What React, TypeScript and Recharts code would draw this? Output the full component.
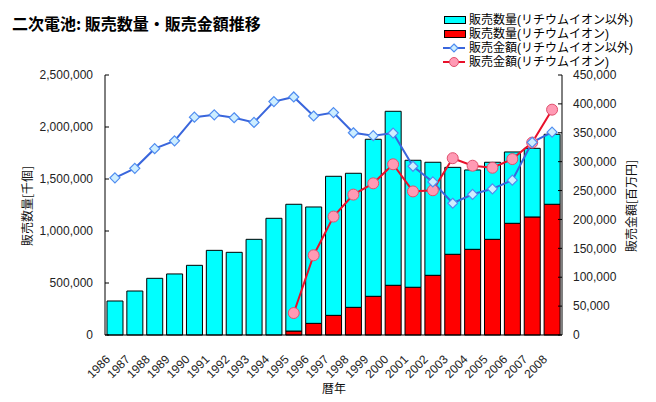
import { ComposedChart, Bar, Line, XAxis, YAxis } from "recharts";

const years = [
  "1986", "1987", "1988", "1989", "1990", "1991", "1992", "1993", "1994", "1995", "1996", "1997",
  "1998", "1999", "2000", "2001", "2002", "2003", "2004", "2005", "2006", "2007", "2008",
];
// 販売数量 [千個]
const qtyOther = [
  327000, 423000, 545000, 587000, 670000, 814000, 795000, 920000, 1122000, 1219000, 1119000, 1337000,
  1289000, 1510000, 1673000, 1221000, 1087000, 836000, 763000, 741000, 686000, 660000, 673000,
];
const qtyLi = [
  null, null, null, null, null, null, null, null, null, 38000, 112000, 189000,
  266000, 372000, 478000, 459000, 574000, 776000, 824000, 920000, 1074000, 1135000, 1257000,
];
// 販売金額 [百万円]
const salesOther = [
  272000, 288500, 322500, 336000, 377000, 381000, 376000, 368000, 404000, 412000, 379000, 385000,
  350000, 345000, 349500, 292000, 265000, 228000, 243500, 253000, 268000, 333500, 351000,
];
const salesLi = [
  null, null, null, null, null, null, null, null, null, 38000, 138000, 205000,
  243000, 262500, 295500, 248500, 250500, 306000, 293000, 289500, 304500, 333000, 390000,
];
const qtyTicks = [0, 500000, 1000000, 1500000, 2000000, 2500000];
const salesTicks = [0, 50000, 100000, 150000, 200000, 250000, 300000, 350000, 400000, 450000];

const data = years.map((year, i) => ({
  year,
  qtyOther: qtyOther[i],
  qtyLi: qtyLi[i],
  salesOther: salesOther[i],
  salesLi: salesLi[i],
}));

const NUM_FONT = "'Liberation Sans', Arial, sans-serif";
const JP_FONT = "'Noto Sans CJK JP', sans-serif";
const LEGEND_FONT = "'Liberation Sans', 'Noto Sans CJK JP', sans-serif";
const CYAN = "#00ffff";
const RED = "#ff0000";
const BLUE = "#3a66dc";
const BLUE_DOT = "#cdeeff";
const BLUE_DOT_STROKE = "#4f8cf0";
const RED_LINE = "#e8102a";
const PINK = "#ff9ab4";
const PINK_STROKE = "#e0506e";

const fmt = (v: number) => v.toLocaleString("en-US");

const Diamond = ({ cx, cy, r = 5 }: any) => (
  <path d={`M${cx},${cy - r}L${cx + r},${cy}L${cx},${cy + r}L${cx - r},${cy}Z`}
    fill={BLUE_DOT} stroke={BLUE_DOT_STROKE} strokeWidth={1.2} />
);

const YearTick = ({ x, y, payload }: any) => (
  <g transform={`translate(${x},${y})`}>
    <text x={-4} y={17} transform="rotate(-45 -4 17)" textAnchor="end"
      fontSize={12} fontFamily={NUM_FONT} fill="#222">{payload.value}</text>
  </g>
);

const legendRows = [
  { label: "販売数量(リチウムイオン以外)", kind: "bar", color: CYAN },
  { label: "販売数量(リチウムイオン)", kind: "bar", color: RED },
  { label: "販売金額(リチウムイオン以外)", kind: "diamond", color: BLUE },
  { label: "販売金額(リチウムイオン)", kind: "circle", color: RED_LINE },
];
const legendTops = [13, 27, 41, 55];

function LegendIcon({ kind, color }: any) {
  return (
    <svg width={26} height={14} style={{ position: "absolute", left: 0, top: 0 }}>
      {kind === "bar" ? (
        <rect x={4.5} y={3.5} width={21} height={7} fill={color} stroke="#000" />
      ) : (
        <g>
          <line x1={3} x2={25} y1={7} y2={7} stroke={color} strokeWidth={2} />
          {kind === "diamond" ? (
            <Diamond cx={14} cy={7} r={4} />
          ) : (
            <circle cx={14} cy={7} r={4.5} fill={PINK} stroke={PINK_STROKE} />
          )}
        </g>
      )}
    </svg>
  );
}

function LegendBox() {
  return (
    <div style={{ position: "absolute", left: 440, top: 0, width: 210, height: 70 }}>
      {legendRows.map((r, i) => (
        <div key={r.label} style={{ position: "absolute", left: 0, top: legendTops[i], height: 14,
          width: 210 }}>
          <LegendIcon kind={r.kind} color={r.color} />
          <span style={{ position: "absolute", left: 29, top: 0, fontFamily: LEGEND_FONT, fontSize: 12,
            lineHeight: "14px", height: 14, whiteSpace: "nowrap", color: "#000" }}>{r.label}</span>
        </div>
      ))}
    </div>
  );
}

const labelStyle: any = {
  position: "absolute", fontFamily: JP_FONT, fontSize: 12, color: "#111",
  whiteSpace: "nowrap", lineHeight: "14px",
};

export default function App() {
  return (
    <div style={{ position: "absolute", left: 0, top: 0, width: 656, height: 402, background: "#fff" }}>
      <div style={{ position: "absolute", left: 12, top: 14, fontFamily: JP_FONT, fontSize: 16,
        fontWeight: "bold", lineHeight: "18px", whiteSpace: "nowrap", color: "#000" }}>
        二次電池: 販売数量・販売金額推移
      </div>
      <LegendBox />
      <div style={{ ...labelStyle, left: 27, top: 206, transform: "translate(-50%,-50%) rotate(-90deg)" }}>
        販売数量[千個]
      </div>
      <div style={{ ...labelStyle, left: 631, top: 206, transform: "translate(-50%,-50%) rotate(-90deg)" }}>
        販売金額[百万円]
      </div>
      <div style={{ ...labelStyle, left: 334, top: 388, transform: "translate(-50%,-50%)" }}>暦年</div>

      <ComposedChart width={656} height={402} data={data}
        margin={{ top: 75, right: 0, bottom: 0, left: 0 }} barCategoryGap="10%">
        <XAxis dataKey="year" height={67} tick={<YearTick />} tickLine={false}
          axisLine={{ stroke: "#000" }} interval={0} />
        <YAxis yAxisId="qty" orientation="left" width={105} domain={[0, 2500000]} ticks={qtyTicks}
          tickFormatter={fmt} tickSize={-4} tickMargin={16} axisLine={{ stroke: "#000" }}
          tickLine={{ stroke: "#000" }} tick={{ fill: "#222", fontSize: 12, fontFamily: NUM_FONT }} />
        <YAxis yAxisId="sales" orientation="right" width={94} domain={[0, 450000]} ticks={salesTicks}
          tickFormatter={fmt} tickSize={-4} tickMargin={15} axisLine={{ stroke: "#000" }}
          tickLine={{ stroke: "#000" }} tick={{ fill: "#222", fontSize: 12, fontFamily: NUM_FONT }} />

        <Bar yAxisId="qty" dataKey="qtyLi" stackId="q" fill={RED} stroke="#000" strokeWidth={1}
          isAnimationActive={false} />
        <Bar yAxisId="qty" dataKey="qtyOther" stackId="q" fill={CYAN} stroke="#000" strokeWidth={1}
          isAnimationActive={false} />

        <Line yAxisId="sales" dataKey="salesLi" stroke={RED_LINE} strokeWidth={2}
          dot={(p: any) => p.value == null || p.cy == null
            ? <g key={`r${p.index}`} />
            : <circle key={`r${p.index}`} cx={p.cx} cy={p.cy} r={5.5}
              fill={PINK} stroke={PINK_STROKE} strokeWidth={1} />}
          isAnimationActive={false} />
        <Line yAxisId="sales" dataKey="salesOther" stroke={BLUE} strokeWidth={2}
          dot={(p: any) => <Diamond key={`b${p.index}`} cx={p.cx} cy={p.cy} r={5} />}
          isAnimationActive={false} />
      </ComposedChart>
    </div>
  );
}
